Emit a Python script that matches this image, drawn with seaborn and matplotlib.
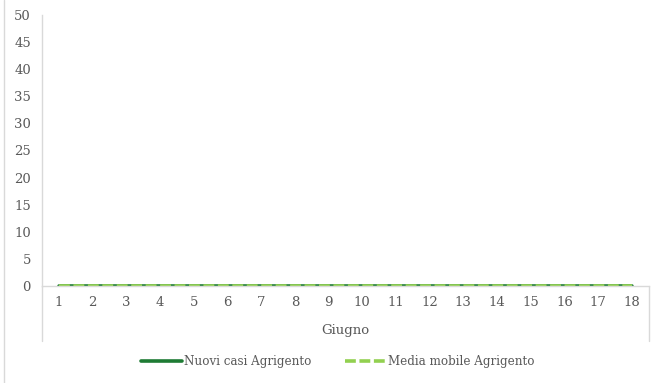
import pandas as pd
import matplotlib.pyplot as plt
import seaborn as sns
from matplotlib.lines import Line2D

giorni = [1, 2, 3, 4, 5, 6, 7, 8, 9, 10, 11, 12, 13, 14, 15, 16, 17, 18]
nuovi_casi = [0, 0, 0, 0, 0, 0, 0, 0, 0, 0, 0, 0, 0, 0, 0, 0, 0, 0]
media_mobile = [0, 0, 0, 0, 0, 0, 0, 0, 0, 0, 0, 0, 0, 0, 0, 0, 0, 0]
y_ticks = [0, 5, 10, 15, 20, 25, 30, 35, 40, 45, 50]

sns.set_style("white")
plt.rcParams['font.family'] = ['DejaVu Serif']

df = pd.DataFrame({'Giorno': giorni, 'Nuovi': nuovi_casi, 'Media': media_mobile})

fig = plt.figure(figsize=(6.64, 3.83), dpi=100)
ax = fig.add_axes([0.0633, 0.2533, 0.9137, 0.7075])

dark = '#1e7b34'
light = '#92d050'
grey = '#d9d9d9'
txt = '#595959'

sns.lineplot(data=df, x='Giorno', y='Nuovi', ax=ax, color=dark, linewidth=2.6)
sns.lineplot(data=df, x='Giorno', y='Media', ax=ax, color=light, linewidth=2.6,
             linestyle=(0, (3, 1)))

ax.set_xlim(0.5, 18.5)
ax.set_ylim(0, 50)
ax.set_yticks(y_ticks)
ax.set_xticks(giorni)
ax.set_xticklabels([str(g) for g in giorni])
ax.tick_params(axis='both', length=0, labelsize=9.5, colors=txt)
ax.tick_params(axis='y', pad=8)
ax.tick_params(axis='x', pad=7)

for s in ['top', 'right']:
    ax.spines[s].set_visible(False)
ax.spines['left'].set_color(grey)
ax.spines['bottom'].set_color(grey)
ax.spines['left'].set_linewidth(1)
ax.spines['bottom'].set_linewidth(1)

# category box lines under the axis
ax.plot([0, 0], [0, -0.203], transform=ax.transAxes, color=grey, lw=1, clip_on=False)
ax.plot([1, 1], [0, -0.203], transform=ax.transAxes, color=grey, lw=1, clip_on=False)

ax.set_xlabel("Giugno", fontsize=9.5, color=txt, labelpad=11)
ax.set_ylabel("")

handles = [Line2D([], [], color=dark, lw=2.6),
           Line2D([], [], color=light, lw=2.6, linestyle=(0, (3, 1)))]
fig.legend(handles, ['Nuovi casi Agrigento', 'Media mobile Agrigento'],
           loc='center', bbox_to_anchor=(0.509, 0.055), ncol=2, frameon=False,
           fontsize=8.6, handlelength=3.4, handletextpad=0.2, columnspacing=2.8,
           labelcolor=txt)

fig.add_artist(Line2D([0.006, 0.006], [0, 1], color=grey, lw=1))

plt.savefig("out.png", dpi=100)
